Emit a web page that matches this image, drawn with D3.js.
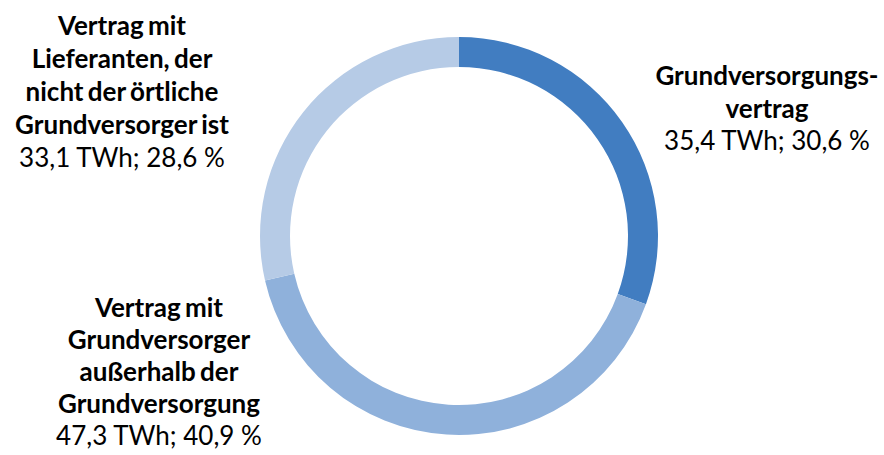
<!DOCTYPE html>
<html>
<head>
<meta charset="utf-8">
<script src="https://cdn.jsdelivr.net/npm/d3@7"></script>
<style>
  body { margin: 0; background: #fff; }
  text { font-family: Lato, "Open Sans", sans-serif; fill: #000; }
</style>
</head>
<body>
<div id="chart"></div>
<script>
// Stromlieferung an Haushaltskunden nach Vertragsart
const categories = [
    ['Grundversorgungs-', 'vertrag'],
    ['Vertrag mit', 'Grundversorger', 'außerhalb der', 'Grundversorgung'],
    ['Vertrag mit', 'Lieferanten, der', 'nicht der örtliche', 'Grundversorger ist'],
]
const valuesTWh = [35.4, 47.3, 33.1]
const sharePct = [30.6, 40.9, 28.6]
const colors = ['#417dc1', '#8fb1db', '#b6cbe6']

const width = 884
const height = 455
const center = { x: 459, y: 236 }
const outerR = 199
const innerR = 169

// label anchors (centre x, first baseline y) and line step
const labelPos = [
    { x: 767, y: 85, step: 32.5 },
    { x: 159, y: 317, step: 32 },
    { x: 122, y: 35, step: 33 },
]

const fmt = v => v.toFixed(1).replace('.', ',')

const svg = d3.select('#chart')
    .append('svg')
    .attr('width', width)
    .attr('height', height)

const pie = d3.pie().sort(null).value(d => d)
const arc = d3.arc().innerRadius(innerR).outerRadius(outerR)

svg.append('g')
    .attr('transform', `translate(${center.x},${center.y})`)
    .selectAll('path')
    .data(pie(valuesTWh))
    .join('path')
    .attr('d', arc)
    .attr('fill', (d, i) => colors[i])

categories.forEach((lines, i) => {
    const p = labelPos[i]
    const t = svg.append('text')
        .attr('text-anchor', 'middle')
        .attr('font-size', 26)
    lines.forEach((line, j) => {
        t.append('tspan')
            .attr('x', p.x)
            .attr('y', p.y + j * p.step)
            .attr('font-weight', 'bold')
            .attr('word-spacing', -2)
            .text(line)
    })
    t.append('tspan')
        .attr('x', p.x)
        .attr('y', p.y + lines.length * p.step)
        .text(`${fmt(valuesTWh[i])} TWh; ${fmt(sharePct[i])} %`)
})
</script>
</body>
</html>
